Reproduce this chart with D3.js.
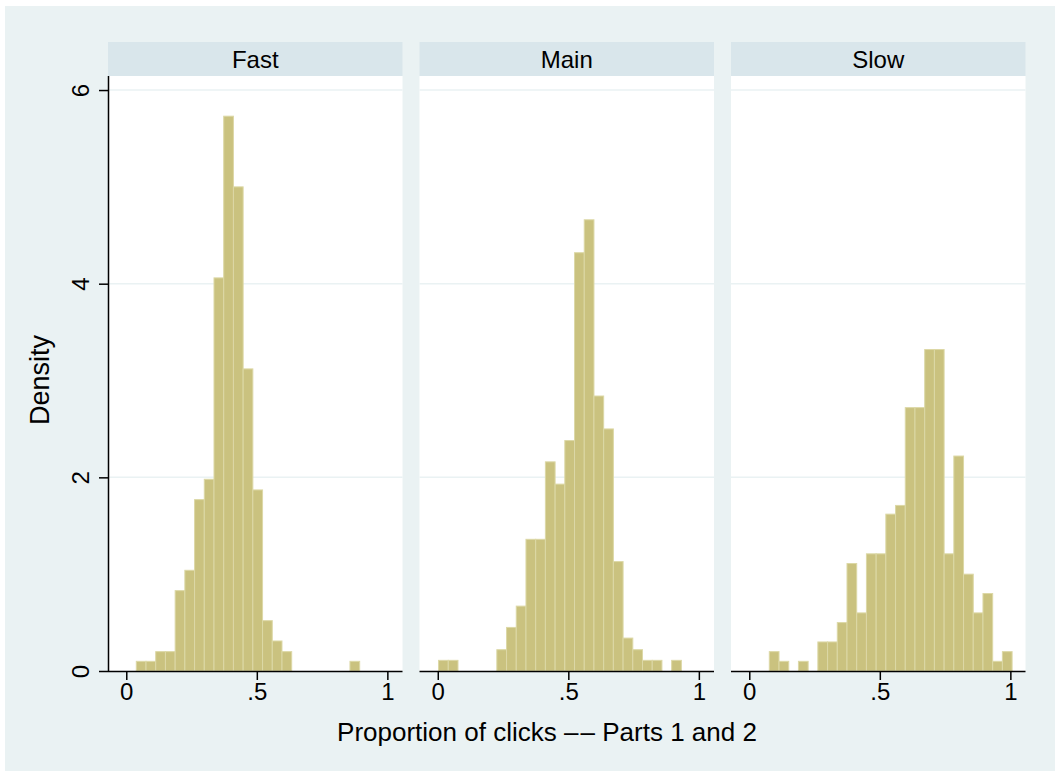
<!DOCTYPE html>
<html>
<head>
<meta charset="utf-8">
<script src="https://cdn.jsdelivr.net/npm/d3@7"></script>
<style>
  body { margin: 0; background: #ffffff; }
  text { font-family: "Liberation Sans", Arial, Helvetica, sans-serif; fill: #000; }
</style>
</head>
<body>
<div id="chart"></div>
<script>
const width = 1055;
const height = 771;

// data
const panels = ["Fast", "Main", "Slow"];
const binStarts = [0.0384, 0.003, 0.0767];
const binWidth = 0.0372;
const fastDensity = [0.1, 0.1, 0.2, 0.2, 0.83, 1.04, 1.77, 1.98, 4.06, 5.73, 5.0, 3.12, 1.87, 0.52, 0.31, 0.2, 0, 0, 0, 0, 0, 0, 0.1];
const mainDensity = [0.11, 0.11, 0, 0, 0, 0, 0.22, 0.45, 0.67, 1.36, 1.36, 2.16, 1.93, 2.38, 4.32, 4.66, 2.84, 2.5, 1.13, 0.34, 0.22, 0.11, 0.11, 0, 0.11];
const slowDensity = [0.2, 0.1, 0, 0.1, 0, 0.3, 0.3, 0.5, 1.11, 0.6, 1.21, 1.21, 1.62, 1.71, 2.72, 2.72, 3.32, 3.32, 1.21, 2.22, 1.0, 0.6, 0.8, 0.1, 0.2];
const densities = [fastDensity, mainDensity, slowDensity];
const xTicks = [0, 0.5, 1];
const xTickLabels = ["0", ".5", "1"];
const yTicks = [0, 2, 4, 6];

const svg = d3.select("#chart").append("svg")
    .attr("width", width)
    .attr("height", height);

svg.append("rect")
    .attr("x", 5).attr("y", 6)
    .attr("width", width - 5).attr("height", height - 6)
    .attr("fill", "#eaf2f3");

const panelLefts = [108, 419.5, 731];
const panelWidth = 294.5;
const stripTop = 42;
const plotTop = 76;
const plotBottom = 671;

const y = d3.scaleLinear().domain([0, 6.145]).range([plotBottom, plotTop]);

panels.forEach((name, i) => {
    const left = panelLefts[i];
    const x = d3.scaleLinear().domain([-0.07, 1.058]).range([left, left + panelWidth]);
    const g = svg.append("g");

    // strip
    g.append("rect")
        .attr("x", left).attr("y", stripTop)
        .attr("width", panelWidth).attr("height", plotTop - stripTop)
        .attr("fill", "#d9e6eb");
    g.append("text")
        .attr("x", left + panelWidth / 2)
        .attr("y", 67.5)
        .attr("text-anchor", "middle")
        .style("font-size", "24px")
        .text(name);

    // plot area
    g.append("rect")
        .attr("x", left).attr("y", plotTop)
        .attr("width", panelWidth).attr("height", plotBottom - plotTop)
        .attr("fill", "#ffffff");

    // gridlines
    g.selectAll(".grid")
        .data(yTicks.filter(d => d > 0))
        .join("line")
        .attr("x1", left).attr("x2", left + panelWidth)
        .attr("y1", d => y(d)).attr("y2", d => y(d))
        .attr("stroke", "#eaf2f3")
        .attr("stroke-width", 1.5);

    // bars
    const bins = densities[i].map((d, k) => ({
        x0: binStarts[i] + k * binWidth,
        x1: binStarts[i] + (k + 1) * binWidth,
        density: d
    })).filter(b => b.density > 0);

    g.selectAll(".bar")
        .data(bins)
        .join("rect")
        .attr("x", b => x(b.x0))
        .attr("y", b => y(b.density))
        .attr("width", b => x(b.x1) - x(b.x0))
        .attr("height", b => plotBottom - y(b.density))
        .attr("fill", "#cac27f")
        .attr("stroke", "#dcd8a6")
        .attr("stroke-width", 1);

    // x axis
    const xAxis = g.append("g")
        .attr("transform", `translate(0,${plotBottom})`)
        .call(d3.axisBottom(x).tickValues(xTicks)
            .tickFormat((d, k) => xTickLabels[k]).tickSize(9).tickPadding(3));
    xAxis.select(".domain")
        .attr("d", `M${left},0.5H${left + panelWidth}`)
        .attr("stroke", "#000").attr("stroke-width", 1.5);
    xAxis.selectAll(".tick line").attr("stroke", "#000").attr("stroke-width", 1.5);
    xAxis.selectAll(".tick text")
        .style("font-size", "24px")
        .attr("fill", "#000");

    // y axis on the first panel only
    if (i === 0) {
        const yAxis = g.append("g")
            .attr("transform", `translate(${left},0)`)
            .call(d3.axisLeft(y).tickValues(yTicks).tickFormat(d => String(d)).tickSize(9).tickPadding(0));
        yAxis.select(".domain")
            .attr("d", `M0.5,${plotTop}V${plotBottom}`)
            .attr("stroke", "#000").attr("stroke-width", 1.5);
        yAxis.selectAll(".tick line").attr("stroke", "#000").attr("stroke-width", 1.5);
        yAxis.selectAll(".tick text")
            .style("font-size", "24px")
            .attr("fill", "#000")
            .attr("text-anchor", "middle")
            .attr("x", 0).attr("dy", 0)
            .attr("transform", "translate(-19,0) rotate(-90)");
    }
});

svg.append("text")
    .attr("x", 547)
    .attr("y", 741)
    .attr("text-anchor", "middle")
    .style("font-size", "26px")
    .text("Proportion of clicks \u2013\u200a\u2013 Parts 1 and 2");

svg.append("text")
    .attr("transform", "translate(49,380) rotate(-90)")
    .attr("text-anchor", "middle")
    .style("font-size", "27px")
    .text("Density");
</script>
</body>
</html>
